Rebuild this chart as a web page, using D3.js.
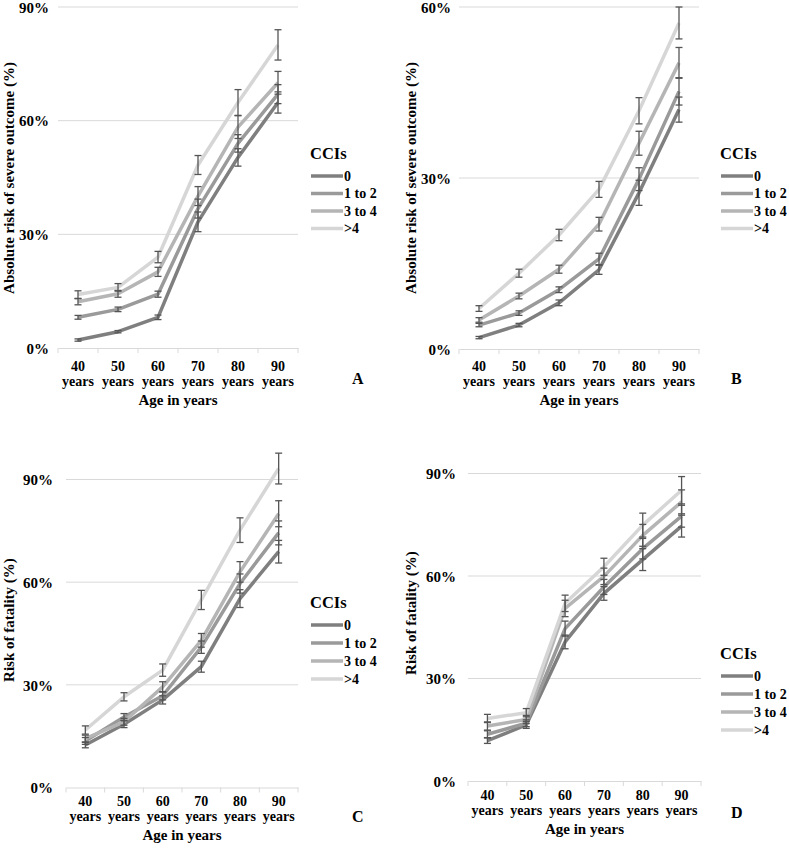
<!DOCTYPE html>
<html><head><meta charset="utf-8">
<script src="https://cdn.jsdelivr.net/npm/d3@7"></script>
<style>
body{margin:0;background:#fff;}
</style></head><body>
<svg id="chart" width="789" height="849"></svg>
<script>
const categories = ["40", "50", "60", "70", "80", "90"];
const seriesNames = ["0", "1 to 2", "3 to 4", ">4"];
const seriesColors = ["#7f7f7f", "#9a9a9a", "#b5b5b5", "#d6d6d6"];
const FONT = "Liberation Serif";

// Panel A: absolute risk of severe outcome
const A_0   = [2.1, 4.3, 8.1, 33.3, 50.3, 64.8];
const A_12  = [8.1, 10.2, 14.2, 36.8, 54.0, 67.0];
const A_34  = [12.2, 14.3, 20.1, 40.1, 58.3, 70.0];
const A_4   = [14.1, 16.0, 24.0, 48.3, 64.8, 80.0];
const A_err0  = [0.3, 0.3, 0.6, 2.6, 2.3, 2.8];
const A_err12 = [0.5, 0.6, 0.8, 2.5, 2.3, 2.5];
const A_err34 = [0.8, 0.9, 1.2, 2.5, 3.0, 3.0];
const A_err4  = [1.0, 1.0, 1.5, 2.5, 3.4, 4.0];

// Panel B: absolute risk of severe outcome
const B_0   = [2.0, 4.2, 8.1, 13.9, 27.4, 42.0];
const B_12  = [4.2, 6.3, 10.4, 15.8, 29.8, 45.2];
const B_34  = [5.1, 9.3, 14.0, 21.9, 36.1, 50.2];
const B_4   = [7.1, 13.3, 20.0, 28.0, 41.8, 57.2];
const B_err0  = [0.2, 0.3, 0.5, 0.8, 2.2, 2.2];
const B_err12 = [0.3, 0.4, 0.5, 1.0, 2.0, 2.4];
const B_err34 = [0.4, 0.5, 0.7, 1.2, 2.1, 2.7];
const B_err4  = [0.5, 0.7, 1.0, 1.4, 2.3, 2.8];

// Panel C: risk of fatality
const C_0   = [12.4, 18.5, 25.6, 35.3, 55.2, 68.9];
const C_12  = [13.6, 20.6, 26.8, 41.0, 59.6, 74.4];
const C_34  = [14.3, 19.2, 29.4, 43.0, 63.0, 80.0];
const C_4   = [16.8, 26.5, 34.3, 54.8, 75.2, 93.2];
const C_err0  = [0.8, 1.0, 1.2, 1.6, 2.6, 3.3];
const C_err12 = [1.0, 1.0, 1.2, 1.8, 2.8, 3.5];
const C_err34 = [1.0, 1.0, 1.5, 2.0, 3.0, 3.8];
const C_err4  = [1.2, 1.2, 1.8, 2.8, 3.6, 4.5];

// Panel D: risk of fatality
const D_0   = [11.8, 16.4, 40.7, 54.9, 64.8, 74.6];
const D_12  = [13.7, 16.9, 44.6, 56.8, 68.0, 77.5];
const D_34  = [16.1, 18.0, 50.5, 59.9, 71.9, 81.7];
const D_4   = [18.3, 20.0, 52.0, 62.7, 74.9, 85.1];
const D_err0  = [0.8, 1.0, 2.0, 2.0, 3.2, 3.2];
const D_err12 = [1.0, 1.0, 2.2, 2.2, 3.0, 3.2];
const D_err34 = [1.2, 1.2, 2.4, 2.4, 3.2, 3.5];
const D_err4  = [1.2, 1.2, 2.4, 2.5, 3.5, 4.0];

const ticksA = [0, 30, 60, 90];
const ticksB = [0, 30, 60];
const ticksC = [0, 30, 60, 90];
const ticksD = [0, 30, 60, 90];

const titleSevere = "Absolute risk of severe outcome (%)";
const titleFatal = "Risk of fatality (%)";
const xTitle = "Age in years";
const legendTitle = "CCIs";

const svg = d3.select("#chart");

function txt(sel, size) {
  return sel.style("font-family", FONT).style("font-weight", "bold").style("font-size", size + "px").attr("fill", "#000");
}

function drawPanel(p) {
  const g = svg.append("g");
  const x = d3.scaleBand().domain(categories).range([p.x0, p.x1]);
  const y = d3.scaleLinear().domain([0, p.max]).range([p.yBase, p.yTop]);

  g.selectAll("line.grid").data(p.ticks.filter(t => t > 0)).enter().append("line")
    .attr("x1", p.x0).attr("x2", p.x1)
    .attr("y1", d => y(d)).attr("y2", d => y(d))
    .attr("stroke", "#d9d9d9").attr("stroke-width", 1);

  const yAxis = d3.axisLeft(y).tickValues(p.ticks).tickFormat(d => d + "%").tickSize(0).tickPadding(0);
  const ya = g.append("g").attr("transform", `translate(${p.yLabelX},0)`).call(yAxis);
  ya.attr("font-family", null).attr("font-size", null);
  ya.select(".domain").remove();
  txt(ya.selectAll("text"), 15).attr("dy", "0.35em");

  const xAxis = d3.axisBottom(x).tickSize(0).tickFormat("");
  const xa = g.append("g").attr("transform", `translate(0,${p.yBase})`).call(xAxis);
  xa.select(".domain").attr("stroke", "#d9d9d9");
  const bounds = categories.map(c => x(c)).concat([p.x1]);
  g.selectAll("line.xt").data(bounds).enter().append("line")
    .attr("x1", d => d).attr("x2", d => d)
    .attr("y1", p.yBase).attr("y2", p.yBase + 5)
    .attr("stroke", "#d9d9d9").attr("stroke-width", 1);

  const lab = g.selectAll("g.xl").data(categories).enter().append("g")
    .attr("transform", d => `translate(${x(d) + x.bandwidth() / 2},0)`);
  txt(lab.append("text").attr("y", p.xLab1).attr("text-anchor", "middle"), 14).text(d => d);
  txt(lab.append("text").attr("y", p.xLab2).attr("text-anchor", "middle"), 14).text("years");

  txt(g.append("text").attr("x", (p.x0 + p.x1) / 2).attr("y", p.xTitleY).attr("text-anchor", "middle"), 15).text(xTitle);

  txt(g.append("text").attr("transform", `translate(${p.yTitleX},${p.yTitleY}) rotate(-90)`)
    .attr("text-anchor", "middle"), 15).text(p.yTitle);

  const line = d3.line().x((d, i) => x(categories[i]) + x.bandwidth() / 2).y(d => y(d));
  p.series.forEach((s, si) => {
    g.append("path").datum(s).attr("d", line).attr("fill", "none")
      .attr("stroke", seriesColors[si]).attr("stroke-width", 3.5)
      .attr("stroke-linejoin", "round");
  });
  p.series.forEach((s, si) => {
    const eb = g.append("g").attr("stroke", "#555").attr("stroke-width", 1.3);
    s.forEach((v, i) => {
      const cx = x(categories[i]) + x.bandwidth() / 2;
      const e = p.errs[si][i];
      const lo = y(v - e), hi = y(v + e);
      eb.append("line").attr("x1", cx).attr("x2", cx).attr("y1", lo).attr("y2", hi);
      eb.append("line").attr("x1", cx - 3.5).attr("x2", cx + 3.5).attr("y1", lo).attr("y2", lo);
      eb.append("line").attr("x1", cx - 3.5).attr("x2", cx + 3.5).attr("y1", hi).attr("y2", hi);
    });
  });

  txt(g.append("text").attr("x", p.legX - 1).attr("y", p.legY), 16.5).text(legendTitle);
  seriesNames.forEach((n, i) => {
    const ly = p.legY + p.legFirst + i * p.legStep;
    g.append("line").attr("x1", p.legX).attr("x2", p.legX + 32).attr("y1", ly).attr("y2", ly)
      .attr("stroke", seriesColors[i]).attr("stroke-width", 3.5);
    txt(g.append("text").attr("x", p.legX + 33).attr("y", ly).attr("dy", "0.35em"), 14).text(n);
  });

  txt(g.append("text").attr("x", p.letterX).attr("y", p.letterY), 16).text(p.letter);
}

drawPanel({series: [A_0, A_12, A_34, A_4], errs: [A_err0, A_err12, A_err34, A_err4], ticks: ticksA, max: 90,
  x0: 58, x1: 298, yBase: 348, yTop: 7, yLabelX: 49, xLab1: 371, xLab2: 386, xTitleY: 405,
  yTitle: titleSevere, yTitleX: 14, yTitleY: 178, legX: 311, legY: 159, legFirst: 17, legStep: 17.5,
  letter: "A", letterX: 352, letterY: 384});
drawPanel({series: [B_0, B_12, B_34, B_4], errs: [B_err0, B_err12, B_err34, B_err4], ticks: ticksB, max: 60,
  x0: 459, x1: 699, yBase: 349, yTop: 7, yLabelX: 451, xLab1: 371, xLab2: 386, xTitleY: 405,
  yTitle: titleSevere, yTitleX: 416, yTitleY: 178, legX: 721, legY: 159, legFirst: 17, legStep: 17.5,
  letter: "B", letterX: 731, letterY: 384});
drawPanel({series: [C_0, C_12, C_34, C_4], errs: [C_err0, C_err12, C_err34, C_err4], ticks: ticksC, max: 90,
  x0: 66, x1: 298, yBase: 787.5, yTop: 479.5, yLabelX: 53, xLab1: 806, xLab2: 821, xTitleY: 840,
  yTitle: titleFatal, yTitleX: 14, yTitleY: 620, legX: 311, legY: 608, legFirst: 17, legStep: 18,
  letter: "C", letterX: 352, letterY: 822});
drawPanel({series: [D_0, D_12, D_34, D_4], errs: [D_err0, D_err12, D_err34, D_err4], ticks: ticksD, max: 90,
  x0: 468, x1: 701, yBase: 781, yTop: 473.5, yLabelX: 456, xLab1: 800, xLab2: 815, xTitleY: 834,
  yTitle: titleFatal, yTitleX: 416, yTitleY: 613, legX: 721, legY: 659, legFirst: 17, legStep: 18,
  letter: "D", letterX: 731, letterY: 818});
</script>
</body></html>
